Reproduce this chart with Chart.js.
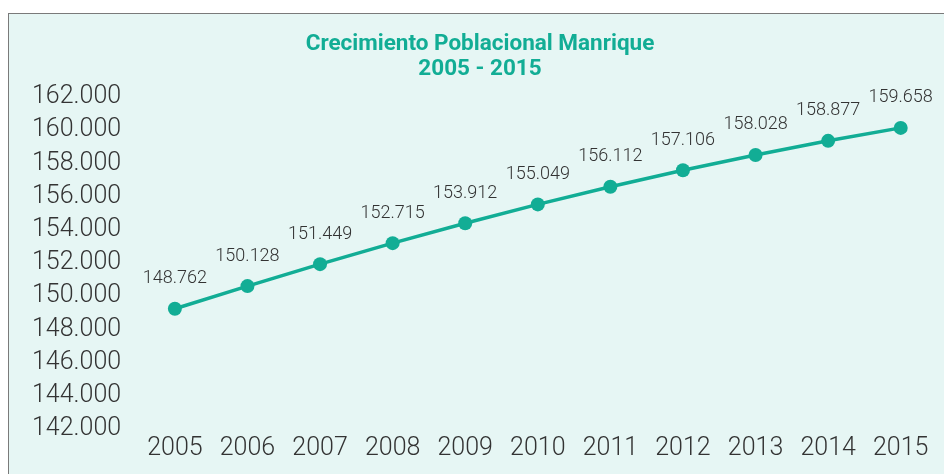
<!DOCTYPE html>
<html>
<head>
<meta charset="utf-8">
<script src="https://cdn.jsdelivr.net/npm/chart.js"></script>
<style>
  html, body { margin: 0; padding: 0; background: #fff; }
  #panel {
    position: absolute; left: 8px; top: 13px; width: 960px; height: 480px;
    background: #e6f6f4; border-left: 1px solid #7a7a7a; border-top: 1px solid #7a7a7a;
  }
  #wrap { position: absolute; left: 0; top: 0; width: 944px; height: 474px; }
</style>
</head>
<body>
<div id="panel"></div>
<div id="wrap"><canvas id="grafico" width="944" height="474"></canvas></div>
<script>
var anios = ['2005', '2006', '2007', '2008', '2009', '2010', '2011', '2012', '2013', '2014', '2015'];
var poblacion = [148762, 150128, 151449, 152715, 153912, 155049, 156112, 157106, 158028, 158877, 159658];
var tituloLineas = ['Crecimiento Poblacional Manrique', '2005 - 2015'];
var ejeMin = 142000;
var ejeMax = 162000;
var ejePaso = 2000;

var verde = '#12ad95';
var gris = '#333333';

function miles(n) {
    return String(n).replace(/\B(?=(\d{3})+(?!\d))/g, '.');
}

// titulo y etiquetas de valores
var textos = {
    id: 'textos',
    afterDatasetsDraw: function(chart) {
        var ctx = chart.ctx;
        ctx.save();
        ctx.fillStyle = verde;
        ctx.font = 'bold 22.5px Roboto';
        ctx.textAlign = 'center';
        ctx.textBaseline = 'middle';
        ctx.fillText(tituloLineas[0], 480, 44);
        ctx.fillText(tituloLineas[1], 480, 69);

        ctx.fillStyle = gris;
        ctx.font = '300 18px Roboto';
        var puntos = chart.getDatasetMeta(0).data;
        for (var i = 0; i < puntos.length; i++) {
            ctx.fillText(miles(poblacion[i]), puntos[i].x, puntos[i].y - 30);
        }
        ctx.restore();
    }
};

var ctx = document.getElementById('grafico').getContext('2d');
new Chart(ctx, {
    type: 'line',
    data: {
        labels: anios,
        datasets: [{
            data: poblacion,
            borderColor: verde,
            backgroundColor: verde,
            borderWidth: 3.5,
            pointRadius: 7,
            pointHoverRadius: 7,
            pointBorderWidth: 0,
            tension: 0
        }]
    },
    options: {
        responsive: false,
        animation: false,
        layout: { padding: { left: 32, right: 4.6, top: 89, bottom: 0 } },
        plugins: {
            legend: { display: false },
            title: { display: false },
            tooltip: { enabled: false }
        },
        scales: {
            x: {
                offset: true,
                grid: { display: false, drawTicks: false },
                border: { display: false },
                ticks: { color: gris, font: { family: 'Roboto', size: 25, weight: '300' }, padding: 13, maxRotation: 0, autoSkip: false },
                afterFit: function(scale) { scale.height = 53; }
            },
            y: {
                min: ejeMin,
                max: ejeMax,
                grid: { display: false, drawTicks: false },
                border: { display: false },
                ticks: {
                    stepSize: ejePaso,
                    color: gris,
                    crossAlign: 'far',
                    labelOffset: 8,
                    font: { family: 'Roboto', size: 25, weight: '300' },
                    callback: function(v) { return miles(v); }
                },
                afterFit: function(scale) { scale.width = 106.6; }
            }
        }
    },
    plugins: [textos]
});
</script>
</body>
</html>
